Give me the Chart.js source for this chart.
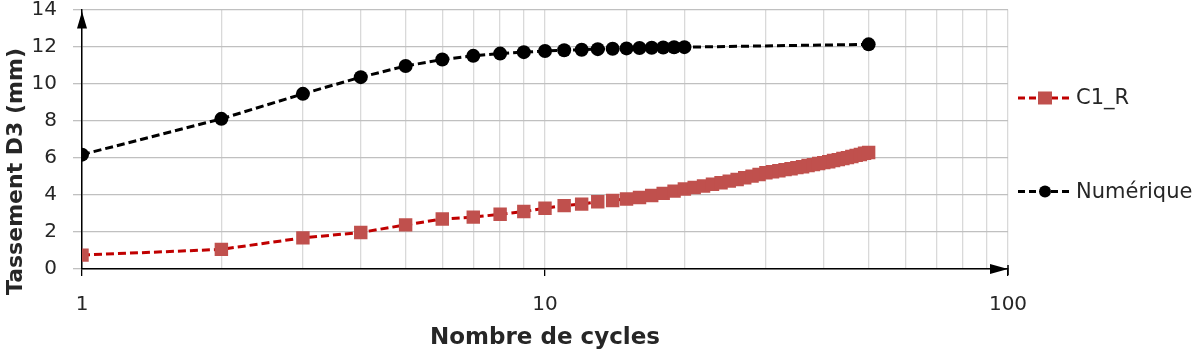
<!DOCTYPE html>
<html>
<head>
<meta charset="utf-8">
<script src="https://cdn.jsdelivr.net/npm/chart.js@4.4.1/dist/chart.umd.min.js"></script>
<style>
  html, body { margin: 0; padding: 0; background: #ffffff; }
  #wrap { width: 1200px; height: 355px; position: relative; }
</style>
</head>
<body>
<div id="wrap"><canvas id="c" width="1200" height="355"></canvas></div>
<script>
// ---- Data ----
const c1rCycles = [1,2,3,4,5,6,7,8,9,10,11,12,13,14,15,16,17,18,19,20,21,22,23,24,25,26,27,28,29,30,31,32,33,34,35,36,37,38,39,40,41,42,43,44,45,46,47,48,49,50];
const c1rValues = [0.75,1.06,1.68,1.97,2.38,2.70,2.80,2.95,3.10,3.28,3.42,3.50,3.63,3.70,3.78,3.86,3.97,4.08,4.20,4.32,4.40,4.48,4.57,4.65,4.74,4.83,4.92,5.01,5.10,5.19,5.25,5.30,5.36,5.41,5.47,5.52,5.58,5.63,5.69,5.74,5.79,5.85,5.90,5.96,6.01,6.07,6.13,6.18,6.24,6.29];
const numCycles = [1,2,3,4,5,6,7,8,9,10,11,12,13,14,15,16,17,18,19,20,50];
const numValues = [6.17,8.10,9.45,10.35,10.95,11.30,11.50,11.62,11.70,11.76,11.80,11.83,11.86,11.88,11.90,11.92,11.94,11.95,11.96,11.97,12.12];
const seriesNames = ["C1_R", "Numérique"];
const xTickLabels = [1, 10, 100];
const yTicks = [0, 2, 4, 6, 8, 10, 12, 14];
const xTitle = "Nombre de cycles";
const yTitle = "Tassement D3 (mm)";

const toPts = (xs, ys) => xs.map((x, i) => ({ x: x, y: ys[i] }));

const FONT = "'DejaVu Sans', 'Open Sans', sans-serif";

// Arrow heads on the axes
const arrowPlugin = {
  id: 'arrows',
  afterDraw(chart) {
    const ctx = chart.ctx;
    const xs = chart.scales.x, ys = chart.scales.y;
    const x0 = xs.getPixelForValue(xs.min);
    const x1 = xs.getPixelForValue(xs.max);
    const y0 = ys.getPixelForValue(ys.min);
    const y1 = ys.getPixelForValue(ys.max);
    ctx.save();
    ctx.fillStyle = '#000';
    ctx.beginPath();
    ctx.moveTo(x0, y1 + 2);
    ctx.lineTo(x0 - 5, y1 + 19);
    ctx.lineTo(x0 + 5, y1 + 19);
    ctx.closePath();
    ctx.fill();
    ctx.beginPath();
    ctx.moveTo(x1, y0);
    ctx.lineTo(x1 - 18, y0 - 5);
    ctx.lineTo(x1 - 18, y0 + 5);
    ctx.closePath();
    ctx.fill();
    ctx.strokeStyle = '#000';
    ctx.lineWidth = 1.5;
    ctx.beginPath();
    ctx.moveTo(x1, y0 - 4);
    ctx.lineTo(x1, y0 + 6);
    ctx.stroke();
    ctx.restore();
  }
};

// Rotated y-axis title, centred on the canvas height like the reference
const yTitlePlugin = {
  id: 'yTitle',
  afterDraw(chart) {
    const ctx = chart.ctx;
    ctx.save();
    ctx.translate(16, chart.height / 2 - 6);
    ctx.rotate(-Math.PI / 2);
    ctx.fillStyle = '#262626';
    ctx.font = "bold 22px " + FONT;
    ctx.textAlign = 'center';
    ctx.textBaseline = 'middle';
    ctx.fillText(yTitle, 0, 0);
    ctx.restore();
  }
};

// Legend with line + marker samples
const legendPlugin = {
  id: 'sideLegend',
  afterDraw(chart) {
    const ctx = chart.ctx;
    const area = chart.chartArea;
    const h = area.bottom - area.top;
    const lx = area.right + 10;
    const rows = [area.top + h * 0.341, area.top + h * 0.701];
    chart.data.datasets.forEach((ds, i) => {
      const y = rows[i];
      ctx.save();
      ctx.strokeStyle = ds.borderColor;
      ctx.lineWidth = 3;
      ctx.setLineDash([7, 4]);
      ctx.beginPath();
      ctx.moveTo(lx, y);
      ctx.lineTo(lx + 53, y);
      ctx.stroke();
      ctx.setLineDash([]);
      ctx.fillStyle = ds.pointBackgroundColor;
      if (ds.pointStyle === 'rect') {
        ctx.fillRect(lx + 20, y - 6.5, 14, 13);
      } else {
        ctx.beginPath();
        ctx.arc(lx + 27, y, 6, 0, Math.PI * 2);
        ctx.fill();
      }
      ctx.fillStyle = '#262626';
      ctx.font = "21px " + FONT;
      ctx.textBaseline = 'middle';
      ctx.textAlign = 'left';
      ctx.fillText(ds.label, lx + 58, y + 1);
      ctx.restore();
    });
  }
};

new Chart(document.getElementById('c'), {
  type: 'scatter',
  data: {
    datasets: [
      {
        label: seriesNames[0],
        data: toPts(c1rCycles, c1rValues),
        showLine: true,
        borderColor: '#C00000',
        borderWidth: 3,
        borderDash: [8, 4],
        pointStyle: 'rect',
        pointRadius: 9.5,
        pointBackgroundColor: '#C0504D',
        pointBorderColor: '#C0504D',
        pointBorderWidth: 0,
        order: 2
      },
      {
        label: seriesNames[1],
        data: toPts(numCycles, numValues),
        showLine: true,
        borderColor: '#000000',
        borderWidth: 3,
        borderDash: [8, 4],
        pointStyle: 'circle',
        pointRadius: 7,
        pointBackgroundColor: '#000000',
        pointBorderColor: '#000000',
        pointBorderWidth: 0,
        order: 1
      }
    ]
  },
  options: {
    responsive: false,
    devicePixelRatio: 1,
    animation: false,
    layout: { padding: { left: 2, right: 192, top: 8, bottom: 0 } },
    plugins: {
      legend: { display: false },
      tooltip: { enabled: false }
    },
    scales: {
      x: {
        type: 'logarithmic',
        min: 1,
        max: 100,
        afterFit(scale) { scale.height = 86; },
        grid: {
          color: '#d9d9d9',
          lineWidth: 1.3,
          drawTicks: true,
          tickLength: 7,
          tickColor: (ctx) => (ctx.tick && xTickLabels.includes(ctx.tick.value)) ? '#000' : 'rgba(0,0,0,0)',
          tickWidth: 1.3
        },
        border: { display: true, color: '#000', width: 1.5 },
        ticks: {
          autoSkip: false,
          maxRotation: 0,
          padding: 17,
          color: '#262626',
          font: { family: FONT, size: 20 },
          callback: (v) => xTickLabels.includes(v) ? String(v) : ''
        },
        title: {
          display: true,
          text: xTitle,
          color: '#262626',
          font: { family: FONT, size: 23, weight: 'bold' },
          padding: { top: 0, bottom: 3 }
        }
      },
      y: {
        min: 0,
        max: 14,
        afterFit(scale) {
          scale.width = 80;
          scale.paddingTop = 0;
          scale.paddingBottom = 0;
        },
        afterBuildTicks(scale) { scale.ticks = yTicks.map(v => ({ value: v })); },
        grid: {
          color: '#c0c0c0',
          lineWidth: 1.3,
          tickLength: 9,
          tickColor: '#c0c0c0'
        },
        border: { display: true, color: '#000', width: 1.5 },
        ticks: {
          padding: 16,
          color: '#262626',
          font: { family: FONT, size: 20 }
        },
        title: { display: false }
      }
    }
  },
  plugins: [arrowPlugin, yTitlePlugin, legendPlugin]
});
</script>
</body>
</html>
